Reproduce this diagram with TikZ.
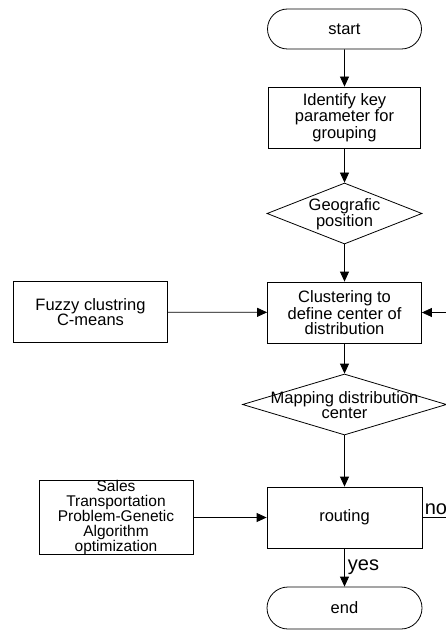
\documentclass[tikz,border=0pt]{standalone}
\usepackage{fontspec}
\setmainfont{Liberation Sans}
\usetikzlibrary{shapes.geometric,shapes.misc,arrows.meta}

\begin{document}
\begin{tikzpicture}[x=1pt,y=-1pt,line width=0.8pt,
    box/.style={draw,rectangle,align=center,inner sep=0pt,minimum width=154,minimum height=61},
    term/.style={draw,rounded rectangle,inner sep=0pt,minimum width=154,minimum height=40},
    decision/.style={draw,diamond,inner sep=0pt,minimum width=155,minimum height=61},
    txt/.style={align=center,inner sep=0pt},
    arr/.style={-{Triangle[length=10pt,width=9pt]}},
    font=\fontsize{16.5}{15}\selectfont]
      \clip (0,0) rectangle (446,631);
      \node[term] (start) at (344.5,29) {start};
      \node[box,minimum width=152] (ident) at (344.5,117.5) {Identify key\\parameter for\\grouping};
      \node[decision] (geo) at (344.5,213.5) {};
      \node[txt] (geotxt) at (344.5,214) {Geografic\\position};
      \node[box] (clust) at (344.5,312.5) {Clustering to\\define center of\\distribution};
      \node[box] (fuzzy) at (90.5,312) {Fuzzy clustring\\C-means};
      \node[decision,minimum width=204] (map) at (344.5,404.5) {};
      \node[txt] (maptxt) at (344.5,405) {Mapping distribution\\center};
      \node[box,minimum height=74,font=\fontsize{15.5}{14.8}\selectfont] (sales) at (116,517.5) {Sales\\Transportation\\Problem-Genetic\\Algorithm\\optimization};
      \node[box,minimum width=155] (route) at (344.5,517.5) {routing};
      \node[term,minimum width=155,minimum height=42] (end) at (344.5,608) {end};
      \draw[arr] (start) -- (ident);
      \draw[arr] (ident) -- (geo);
      \draw[arr] (geo) -- (clust);
      \draw[arr] (fuzzy) -- (clust);
      \draw[arr] (clust) -- (map);
      \draw[arr] (map) -- (route);
      \draw[arr] (sales) -- (route);
      \draw[arr] (route) -- node[right,inner sep=3pt,font=\fontsize{20}{20}\selectfont] (yes) {yes} (end);
      \draw[arr] (route.east) -- ++(40,0)
        node[pos=0,anchor=south west,inner sep=2pt,font=\fontsize{20}{20}\selectfont] (no) {no}
        |- (clust.east);
\end{tikzpicture}
\end{document}
